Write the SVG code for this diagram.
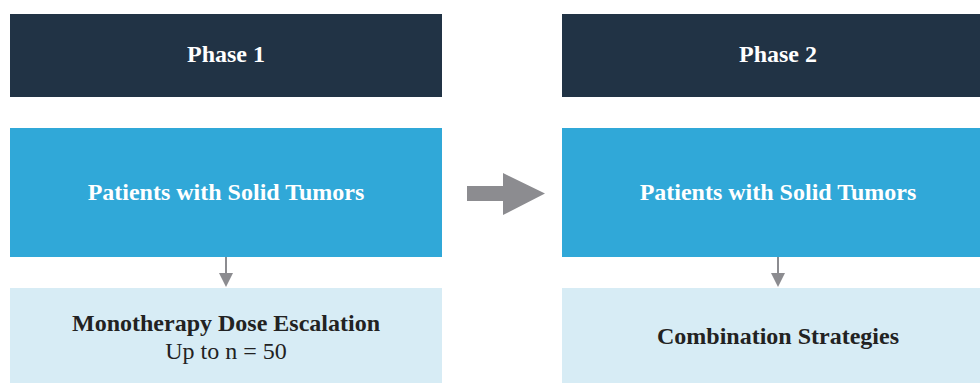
<svg xmlns="http://www.w3.org/2000/svg" width="980" height="383" viewBox="0 0 980 383">
<style>
.hdr{fill:#213345}
.blue{fill:#30a8d8}
.light{fill:#d7ecf5}
.t{font-family:"Liberation Serif","Times New Roman",serif;font-size:24px;text-anchor:middle}
.w{fill:#ffffff;font-weight:bold}
.d{fill:#222222}
.b{font-weight:bold}
.conn{stroke:#8c8c90;stroke-width:2;fill:none}
.head{fill:#8c8c90}
</style>
<rect width="980" height="383" fill="#ffffff"/>
<g id="phase1">
<rect class="hdr" x="10" y="14" width="432" height="83"/>
<text class="t w" x="226" y="62">Phase 1</text>
</g>
<g id="phase2">
<rect class="hdr" x="562" y="14" width="432" height="83"/>
<text class="t w" x="778" y="62">Phase 2</text>
</g>
<g id="patients1">
<rect class="blue" x="10" y="128" width="432" height="129"/>
<text class="t w" x="226" y="200">Patients with Solid Tumors</text>
</g>
<g id="patients2">
<rect class="blue" x="562" y="128" width="432" height="129"/>
<text class="t w" x="778" y="200">Patients with Solid Tumors</text>
</g>
<g id="mono">
<rect class="light" x="10" y="288" width="432" height="95"/>
<text class="t d b" x="226" y="331">Monotherapy Dose Escalation</text>
<text class="t d" x="226" y="359">Up to n = 50</text>
</g>
<g id="combo">
<rect class="light" x="562" y="288" width="432" height="95"/>
<text class="t d b" x="778" y="344">Combination Strategies</text>
</g>
<g id="connectors">
<line class="conn" x1="226" y1="257" x2="226" y2="274"/>
<polygon class="head" points="219,273 233,273 226,287"/>
<line class="conn" x1="778" y1="257" x2="778" y2="274"/>
<polygon class="head" points="771,273 785,273 778,287"/>
<polygon class="head" points="467,186 503,186 503,173 545,193.5 503,215 503,201 467,201"/>
</g>
</svg>
